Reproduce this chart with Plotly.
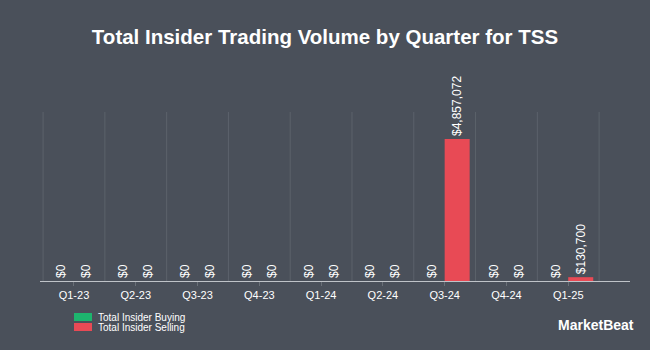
import plotly.graph_objects as go

quarters = ["Q1-23", "Q2-23", "Q3-23", "Q4-23", "Q1-24", "Q2-24", "Q3-24", "Q4-24", "Q1-25"]
buying = [0, 0, 0, 0, 0, 0, 0, 0, 0]
selling = [0, 0, 0, 0, 0, 0, 4857072, 0, 130700]
series_names = ["Total Insider Buying", "Total Insider Selling"]
series_colors = ["#1db56e", "#e84a55"]

def fmt(v):
    return "${:,.0f}".format(v)

bg = "#4a505a"
FONT = "Liberation Sans, Arial"
fig = go.Figure()
for name, vals, col in zip(series_names, [buying, selling], series_colors):
    fig.add_trace(go.Bar(
        x=quarters, y=vals, name=name,
        marker=dict(color=col, line=dict(width=0)),
        text=[fmt(v) for v in vals], textposition="outside", textangle=-90,
        constraintext="none",
        textfont=dict(color="#ffffff", size=12, family=FONT),
        cliponaxis=False, showlegend=False,
    ))

fig.update_layout(
    width=650, height=350,
    paper_bgcolor=bg, plot_bgcolor=bg,
    margin=dict(l=40, r=20, t=112, b=69, autoexpand=False),
    barmode="group", bargap=0.19, bargroupgap=0,
    title=dict(text="<b>Total Insider Trading Volume by Quarter for TSS</b>",
               x=0.5, xanchor="center", y=0.895, yanchor="middle",
               font=dict(size=20.5, color="#ffffff", family=FONT)),
    showlegend=False,
    font=dict(family=FONT, color="#ffffff"),
)
fig.update_xaxes(
    type="category", range=[-0.55, 9.0],
    showgrid=False, showline=True, linecolor="#bfc3c8", linewidth=1,
    ticks="outside", ticklen=4, tickcolor="#6a7078",
    tickfont=dict(size=11, color="#ffffff"),
)
for i in range(len(quarters) + 1):
    fig.add_shape(type="line", xref="x", yref="paper", x0=i - 0.5, x1=i - 0.5, y0=0, y1=1,
                  line=dict(color="#5c626b", width=1), layer="below")
fig.update_yaxes(range=[0, 5780000], showgrid=False, showticklabels=False, zeroline=False)

# manual legend (plot area: x 40..630, y 112..281)
def px_x(x):
    return (x - 40) / 590.0

def px_y(y):
    return (281 - y) / 169.0

for k, (name, col) in enumerate(zip(series_names, series_colors)):
    top = 313 + 10 * k
    fig.add_shape(type="rect", xref="paper", yref="paper",
                  x0=px_x(74), x1=px_x(92), y0=px_y(top), y1=px_y(top + 8),
                  fillcolor=col, line=dict(width=0))
    fig.add_annotation(text=name, xref="paper", yref="paper", x=px_x(96), y=px_y(top + 4),
                       xanchor="left", yanchor="middle", showarrow=False,
                       font=dict(size=10, color="#ffffff", family=FONT))

fig.add_annotation(text="<b>MarketBeat</b>", xref="paper", yref="paper", x=px_x(636), y=px_y(325),
                   xanchor="right", yanchor="middle", showarrow=False,
                   font=dict(size=14, color="#ffffff", family=FONT))

fig.write_html("out.html")
